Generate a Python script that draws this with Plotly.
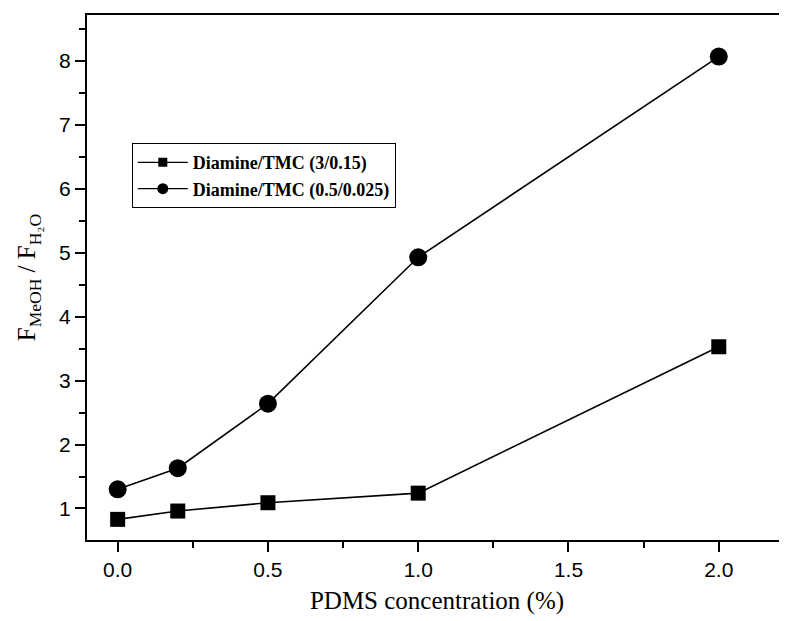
import plotly.graph_objects as go

pdms = [0.0, 0.2, 0.5, 1.0, 2.0]
ratio_3_015 = [0.83, 0.96, 1.09, 1.24, 3.53]
ratio_05_0025 = [1.30, 1.63, 2.64, 4.93, 8.07]
names = ["Diamine/TMC (3/0.15)", "Diamine/TMC (0.5/0.025)"]
symbols = ["square", "circle"]
x_ticks = [0.0, 0.5, 1.0, 1.5, 2.0]
x_ticklabels = ["0.0", "0.5", "1.0", "1.5", "2.0"]
y_ticks = [1, 2, 3, 4, 5, 6, 7, 8]

fig = go.Figure()
fig.add_trace(go.Scatter(x=pdms, y=ratio_3_015, mode="lines+markers", name=names[0],
                         showlegend=False, legendgroup="a",
                         line=dict(color="black", width=1.6),
                         marker=dict(symbol=symbols[0], size=15, color="black")))
fig.add_trace(go.Scatter(x=pdms, y=ratio_05_0025, mode="lines+markers", name=names[1],
                         showlegend=False, legendgroup="b",
                         line=dict(color="black", width=1.6),
                         marker=dict(symbol=symbols[1], size=18, color="black")))
# legend entries (smaller symbols as in the reference legend)
fig.add_trace(go.Scatter(x=[None], y=[None], mode="lines+markers", name=names[0],
                         legendgroup="a", line=dict(color="black", width=1.2),
                         marker=dict(symbol=symbols[0], size=9, color="black")))
fig.add_trace(go.Scatter(x=[None], y=[None], mode="lines+markers", name=names[1],
                         legendgroup="b", line=dict(color="black", width=1.2),
                         marker=dict(symbol=symbols[1], size=11, color="black")))

fig.update_layout(
    width=779, height=613,
    margin=dict(l=79, r=0, t=7, b=81),
    paper_bgcolor="white", plot_bgcolor="white",
    showlegend=True,
    legend=dict(x=0.064, y=0.756, xanchor="left", yanchor="top",
                bordercolor="black", borderwidth=1, bgcolor="white",
                font=dict(family="Liberation Serif", size=18, color="black", weight="bold"),
                tracegroupgap=0, itemwidth=50),
    font=dict(family="Liberation Sans", color="black"),
)
fig.update_xaxes(range=[-0.102, 2.227], tickvals=x_ticks, ticktext=x_ticklabels,
                 ticks="outside", ticklen=10, tickwidth=2, tickcolor="black",
                 minor=dict(dtick=0.25, tick0=0, ticks="outside", ticklen=6, tickwidth=2, tickcolor="black"),
                 showline=True, linewidth=2, linecolor="black", mirror=True,
                 showgrid=False, zeroline=False,
                 tickfont=dict(family="Liberation Sans", size=21),
                 title=dict(text="PDMS concentration (%)", standoff=11,
                            font=dict(family="Liberation Serif", size=25)))
fig.update_yaxes(range=[0.507, 8.72], tickvals=y_ticks,
                 ticks="outside", ticklen=10, tickwidth=2, tickcolor="black",
                 minor=dict(dtick=0.5, tick0=0.5, ticks="outside", ticklen=6, tickwidth=2, tickcolor="black"),
                 showline=True, linewidth=2, linecolor="black", mirror=False,
                 showgrid=False, zeroline=False,
                 tickfont=dict(family="Liberation Sans", size=21),
                 title=dict(text="F<sub>MeOH</sub> / F<sub>H₂O</sub>", standoff=16,
                            font=dict(family="Liberation Serif", size=25)))

fig.write_html("out.html")
